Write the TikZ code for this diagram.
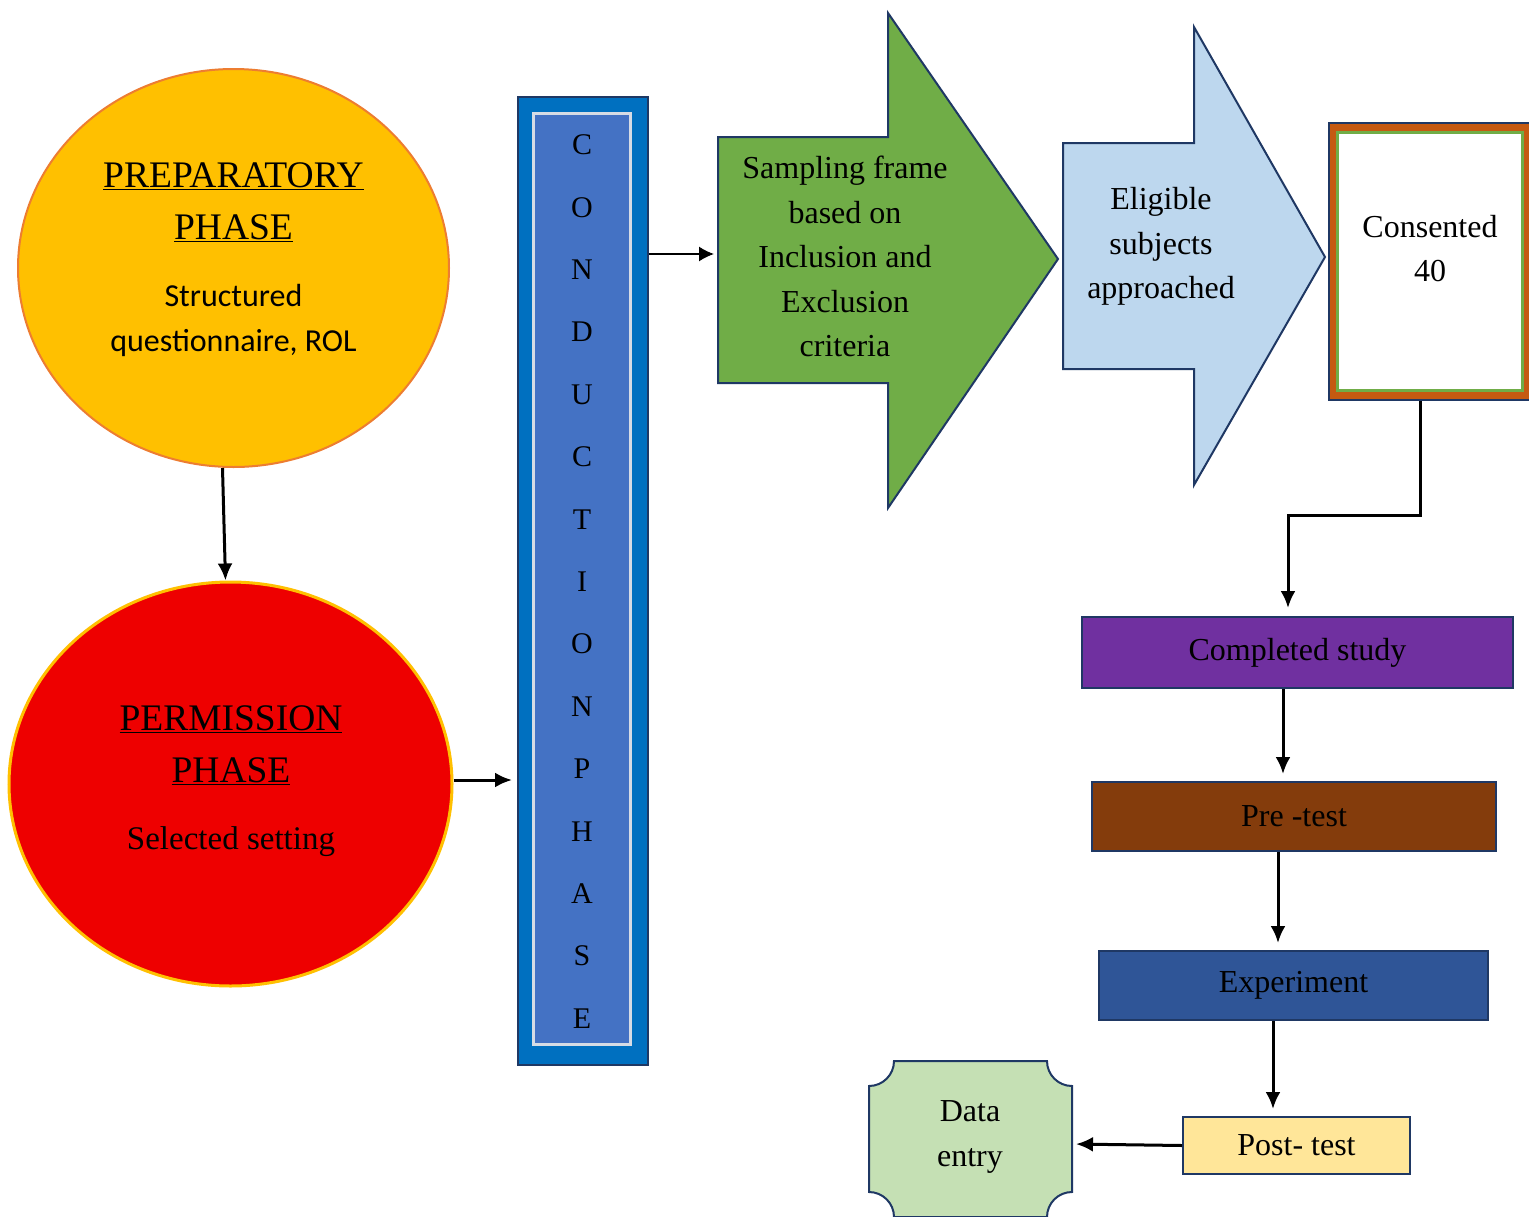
\documentclass[tikz,border=0pt]{standalone}
\usepackage{fontspec}
\setmainfont{Liberation Serif}
\newfontfamily\sanscal{Carlito}
\usetikzlibrary{shapes.geometric, positioning, arrows.meta}

\definecolor{navyline}{HTML}{1F3864}
\definecolor{prepfill}{HTML}{FFC000}
\definecolor{prepline}{HTML}{ED7D31}
\definecolor{permfill}{HTML}{EE0000}
\definecolor{permline}{HTML}{FFC000}
\definecolor{condouter}{HTML}{0070C0}
\definecolor{condinner}{HTML}{4472C4}
\definecolor{condrim}{HTML}{D6DCE5}
\definecolor{framefill}{HTML}{70AD47}
\definecolor{eligfill}{HTML}{BDD7EE}
\definecolor{consband}{HTML}{C55A11}
\definecolor{donefill}{HTML}{7030A0}
\definecolor{prefill}{HTML}{843C0C}
\definecolor{expfill}{HTML}{2F5597}
\definecolor{postfill}{HTML}{FFE699}
\definecolor{entryfill}{HTML}{C5E0B4}

\tikzset{/Flow/box/.style={
	shape=rectangle, draw=navyline, line width=2pt, inner sep=0
}}
\tikzset{/Flow/link/.style={
	draw, line width=3pt, -{Latex[length=17pt,width=15pt]}, shorten >=7pt
}}
\tikzset{/Flow/phase/.style={
	shape=ellipse, line width=2pt, inner sep=0
}}

\begin{document}
\begin{tikzpicture}[x=1pt, y=-1pt, font=\fontsize{32}{44.5}\selectfont]
\path[use as bounding box, fill=white] (0,0) rectangle (1529,1216);

% the two phases on the left
\node[/Flow/phase, fill=prepfill, draw=prepline, minimum width=431pt, minimum height=398pt] (prep) at (233.5,268) {};
\node[align=center, font=\fontsize{37.5}{52}\selectfont] (prephead) at (233.5,202) {\underline{PREPARATORY}\\\underline{PHASE}};
\node[align=center, font=\sanscal\fontsize{32}{45}\selectfont] (prepbody) at (233.5,320.5) {Structured\\questionnaire, ROL};

\node[/Flow/phase, fill=permfill, draw=permline, line width=3pt, minimum width=443pt, minimum height=404pt] (perm) at (230.5,784) {};
\node[align=center, font=\fontsize{37.5}{52}\selectfont] (permhead) at (231,745) {\underline{PERMISSION}\\\underline{PHASE}};
\node[font=\fontsize{33}{44}\selectfont] (permbody) at (231,841.5) {Selected setting};

% conduction bar
\node[/Flow/box, fill=condouter, minimum width=130pt, minimum height=968pt] (cond) at (583,581) {};
\node[shape=rectangle, draw=condrim, line width=3pt, fill=condinner, minimum width=97pt, minimum height=931pt] (condin) at (581.5,578.5) {};
\foreach \l [count=\i from 0] in {C,O,N,D,U,C,T,I,O,N,P,H,A,S,E}
	\node[font=\fontsize{30}{30}\selectfont] (letter\i) at (582,145+62.4*\i) {\l};

% block arrows on top
\filldraw[fill=framefill, draw=navyline, line width=2pt] (718,137) -- (888,137) -- (888,13) -- (1058,259) -- (888,508) -- (888,383) -- (718,383) -- cycle;
\node[align=center] (frame) at (845,256.5) {Sampling frame\\based on\\Inclusion and\\Exclusion\\criteria};
\coordinate (framein) at (718,254);

\filldraw[fill=eligfill, draw=navyline, line width=2pt] (1063,143) -- (1194,143) -- (1194,27) -- (1325,257) -- (1194,485) -- (1194,369) -- (1063,369) -- cycle;
\node[align=center] (elig) at (1161,246.5) {Eligible\\subjects\\approached};

% consented
\node[shape=rectangle, draw=navyline, line width=2pt, fill=consband, minimum width=202pt, minimum height=277pt] (cons) at (1430,261.5) {};
\node[shape=rectangle, draw=framefill, line width=3pt, fill=white, minimum width=185pt, minimum height=258pt] (consin) at (1430,261) {};
\node[align=center] (conslabel) at (1430,248.5) {Consented\\40};

% right column
\node[/Flow/box, fill=donefill, minimum width=431pt, minimum height=71pt] (done) at (1297.5,652.5) {Completed study};
\node[/Flow/box, fill=prefill, minimum width=404pt, minimum height=69pt] (pre) at (1294,816.5) {Pre -test};
\node[/Flow/box, fill=expfill, minimum width=389pt, minimum height=69pt] (exp) at (1293.5,985.5) {Experiment};
\node[/Flow/box, fill=postfill, minimum width=227pt, minimum height=57pt] (post) at (1296.5,1145.5) {Post- test};

% data entry
\filldraw[fill=entryfill, draw=navyline, line width=2pt] (894,1061) -- (1047,1061) arc (180:90:25) -- (1072,1192) arc (270:180:25) -- (894,1217) arc (0:-90:25) -- (869,1086) arc (90:0:25) -- cycle;
\node[align=center] (entry) at (970,1137) {Data\\entry};
\coordinate (entryin) at (1072,1144);

% connectors
\path[/Flow/link, shorten >=0pt] ([xshift=-11pt]prep.south) -- ([xshift=-5pt]perm.north);
\path[/Flow/link, shorten >=5pt] ([yshift=4pt]perm.east) -- ([yshift=4pt]perm.east -| cond.west);
\path[draw, line width=1.5pt, -{Latex[length=15pt,width=15pt]}, shorten >=4pt] (cond.east |- framein) -- (framein);
\coordinate (bend) at (1288,515);
\path[/Flow/link, shorten >=8pt] ([xshift=-10pt]cons.south) |- (bend) -- ([xshift=-9.5pt]done.north);
\path[/Flow/link] ([xshift=-14.5pt]done.south) -- ([xshift=-11pt]pre.north);
\path[/Flow/link] ([xshift=-16pt]pre.south) -- ([xshift=-15.5pt]exp.north);
\path[/Flow/link] ([xshift=-20.5pt]exp.south) -- ([xshift=-23.5pt]post.north);
\path[/Flow/link, shorten >=4pt] (post.west) -- (entryin);
\end{tikzpicture}
\end{document}
